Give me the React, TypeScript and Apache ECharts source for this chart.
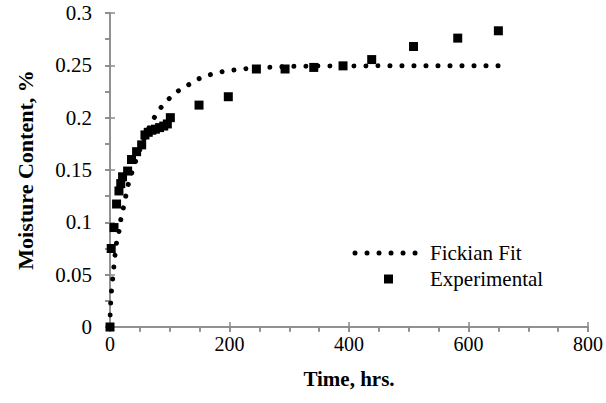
import React, { useEffect, useRef } from "react";
import * as echarts from "echarts";

const fitTime = [0, 0.3, 1.1, 2.5, 4.5, 6.5, 8.4, 10.5, 15, 17.9, 22.2, 26.2, 30.6, 36.2, 45, 55, 65, 74, 85, 98.5, 114, 131, 149, 167, 187, 206, 227, 266, 307, 350, 400, 450, 500, 550, 600, 652];
const fitMoisture = [0, 0.0115, 0.0226, 0.0344, 0.0459, 0.0576, 0.0688, 0.0793, 0.091, 0.1022, 0.1134, 0.1245, 0.1363, 0.1468, 0.162, 0.177, 0.19, 0.2, 0.2095, 0.218, 0.2255, 0.2312, 0.2372, 0.241, 0.2439, 0.2455, 0.2468, 0.2481, 0.249, 0.2493, 0.2494, 0.2495, 0.2495, 0.2495, 0.2495, 0.2495];

const expTime = [0, 2, 6.7, 11, 15, 18, 21, 29.5, 36, 44.5, 53, 58.5, 64, 70, 76, 83, 90, 96, 101, 149, 198, 245, 293, 341, 390, 438, 508, 582, 650];
const expMoisture = [0, 0.075, 0.095, 0.1175, 0.13, 0.137, 0.1435, 0.149, 0.16, 0.1675, 0.174, 0.1835, 0.186, 0.188, 0.189, 0.1905, 0.192, 0.194, 0.2, 0.212, 0.22, 0.2465, 0.2465, 0.248, 0.2495, 0.2555, 0.268, 0.276, 0.283];

const seriesNames = ["Fickian Fit", "Experimental"];
const xTitle = "Time, hrs.";
const yTitle = "Moisture Content, %";

const FONT = "Liberation Serif";
const AXIS_COLOR = "#8a8a8a";

export default function App() {
  const ref = useRef<HTMLDivElement>(null);
  useEffect(() => {
    if (!ref.current) return;
    const chart = echarts.init(ref.current, undefined, { renderer: "svg" });
    const lineStyle = { color: AXIS_COLOR, width: 1.5 };
    const xBase = { type: "value", min: 0, max: 800, interval: 200, splitLine: { show: false } };
    const yBase = { type: "value", min: 0, max: 0.3, interval: 0.05, splitLine: { show: false } };
    const labelStyle = { fontFamily: FONT, color: "#000" };
    chart.setOption({
      animation: false,
      backgroundColor: "#fff",
      textStyle: { fontFamily: FONT },
      grid: { left: 110, right: 17, top: 13, bottom: 76 },
      xAxis: [
        {
          ...xBase,
          position: "bottom",
          name: xTitle,
          nameLocation: "middle",
          nameGap: 41,
          nameTextStyle: { ...labelStyle, fontSize: 21, fontWeight: "bold" },
          axisLine: { show: true, lineStyle },
          axisTick: { show: true, inside: false, length: 5, lineStyle },
          minorTick: { show: true, splitNumber: 4, length: 5, lineStyle },
          axisLabel: { ...labelStyle, fontSize: 20, margin: 7 },
        },
        {
          ...xBase,
          position: "bottom",
          axisLine: { show: false },
          axisTick: { show: true, inside: true, length: 5, lineStyle },
          axisLabel: { show: false },
        },
        {
          ...xBase,
          position: "top",
          axisLine: { show: true, lineStyle },
          axisTick: { show: true, inside: true, length: 5, lineStyle },
          minorTick: { show: true, splitNumber: 4, length: 4, lineStyle },
          axisLabel: { show: false },
        },
      ],
      yAxis: [
        {
          ...yBase,
          position: "left",
          name: yTitle,
          nameLocation: "middle",
          nameGap: 74,
          nameTextStyle: { ...labelStyle, fontSize: 22, fontWeight: "bold" },
          axisLine: { show: true, lineStyle },
          axisTick: { show: true, inside: false, length: 5, lineStyle },
          minorTick: { show: true, splitNumber: 2, length: 5, lineStyle },
          axisLabel: { ...labelStyle, fontSize: 21, margin: 18 },
        },
        {
          ...yBase,
          position: "left",
          axisLine: { show: false },
          axisTick: { show: true, inside: true, length: 5, lineStyle },
          axisLabel: { show: false },
        },
        {
          ...yBase,
          position: "right",
          axisLine: { show: true, lineStyle },
          axisTick: { show: true, inside: true, length: 5, lineStyle },
          minorTick: { show: true, splitNumber: 2, length: 5, lineStyle },
          axisLabel: { show: false },
        },
      ],
      series: [
        {
          name: seriesNames[0],
          type: "line",
          xAxisIndex: 0,
          yAxisIndex: 0,
          showSymbol: false,
          symbol: "none",
          data: fitTime.map((t, i) => [t, fitMoisture[i]]),
          lineStyle: { color: "#000", width: 5, type: [0.01, 12], cap: "round", opacity: 1 },
          z: 2,
        },
        {
          name: seriesNames[1],
          type: "scatter",
          xAxisIndex: 0,
          yAxisIndex: 0,
          symbol: "rect",
          symbolSize: 9,
          itemStyle: { color: "#000", opacity: 1 },
          data: expTime.map((t, i) => [t, expMoisture[i]]),
          z: 3,
        },
      ],
      graphic: [
        {
          type: "polyline",
          shape: { points: [[355, 253], [418, 253]] },
          style: { stroke: "#000", lineWidth: 5, lineDash: [0.01, 12], lineCap: "round" },
        },
        {
          type: "rect",
          shape: { x: 384, y: 274.5, width: 9, height: 9 },
          style: { fill: "#000" },
        },
        {
          type: "text",
          x: 430,
          y: 253,
          style: { text: seriesNames[0], fontFamily: FONT, fontSize: 21, fontWeight: "normal", fill: "#000", verticalAlign: "middle" },
        },
        {
          type: "text",
          x: 430,
          y: 279,
          style: { text: seriesNames[1], fontFamily: FONT, fontSize: 21, fontWeight: "normal", fill: "#000", verticalAlign: "middle" },
        },
      ],
    });
    return () => chart.dispose();
  }, []);
  return <div ref={ref} style={{ width: 606, height: 403, position: "absolute", left: 0, top: 0 }} />;
}
